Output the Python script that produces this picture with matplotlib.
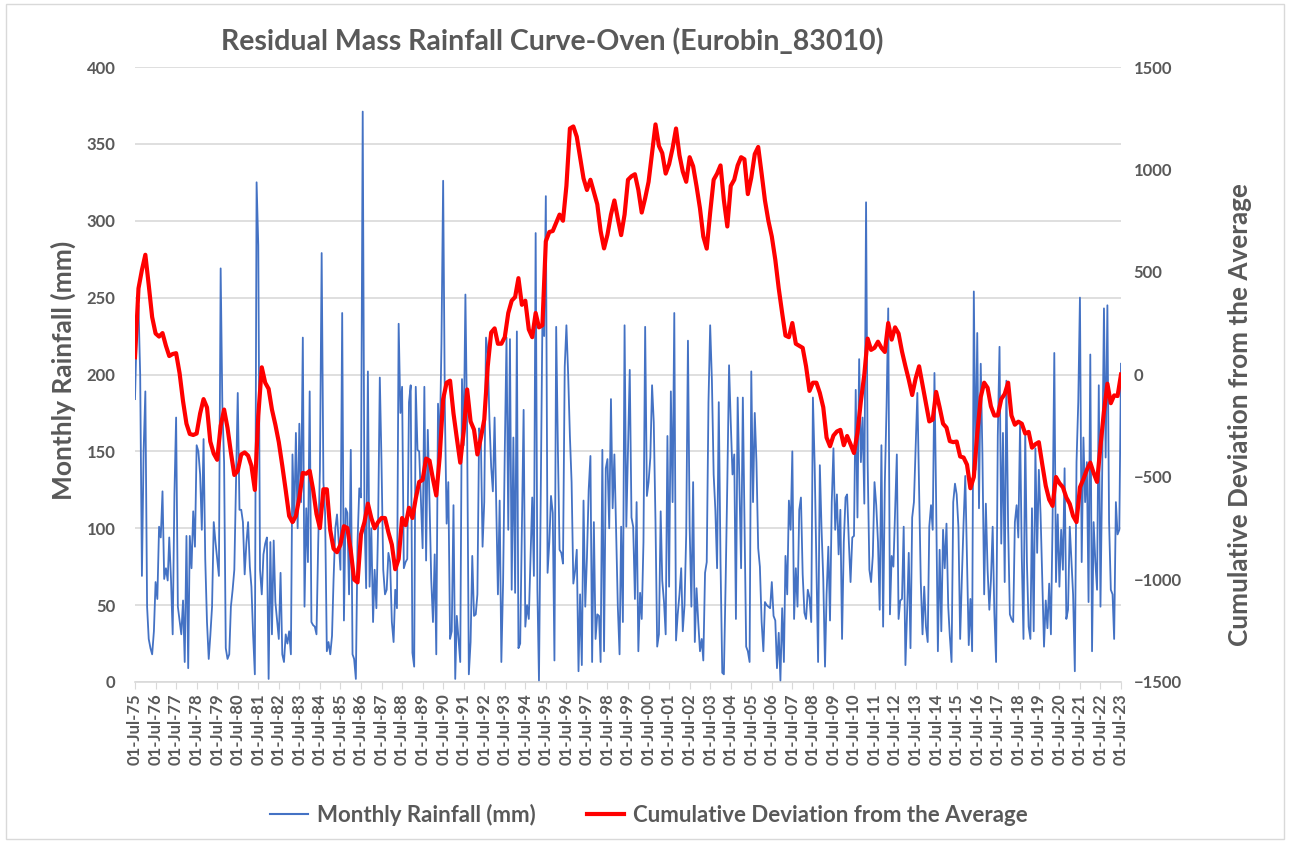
import numpy as np
import pandas as pd
import matplotlib
matplotlib.use("Agg")
import matplotlib.pyplot as plt
import matplotlib.dates as mdates
from matplotlib.lines import Line2D
from matplotlib.patches import Rectangle

plt.rcParams['font.family'] = ['Lato', 'DejaVu Sans']

# monthly rainfall (mm), one row per hydrological year starting July 1975
rain_rows = [
    [184, 230, 245, 200, 69, 150, 189, 49, 28, 22, 18, 33],
    [65, 54, 101, 94, 124, 67, 74, 66, 94, 67, 31, 122],
    [172, 49, 40, 31, 53, 13, 95, 9, 95, 74, 111, 88],
    [154, 150, 135, 99, 158, 80, 39, 15, 30, 49, 104, 91],
    [80, 69, 269, 180, 143, 22, 15, 18, 49, 60, 73, 130],
    [188, 112, 112, 104, 70, 90, 104, 75, 62, 30, 5, 325],
    [284, 73, 57, 83, 90, 94, 2, 91, 31, 92, 52, 40],
    [28, 71, 18, 13, 31, 25, 33, 18, 148, 104, 162, 100],
    [168, 117, 224, 49, 113, 78, 189, 39, 37, 36, 31, 91],
    [138, 279, 130, 110, 20, 26, 18, 30, 67, 100, 109, 91],
    [73, 240, 40, 113, 110, 57, 151, 18, 15, 2, 91, 126],
    [120, 371, 109, 61, 202, 62, 100, 39, 73, 48, 100, 198],
    [143, 73, 57, 60, 84, 78, 39, 26, 60, 48, 233, 175],
    [192, 74, 78, 80, 182, 193, 19, 10, 192, 151, 150, 117],
    [87, 192, 79, 164, 117, 67, 39, 83, 18, 181, 150, 220],
    [326, 177, 103, 130, 28, 33, 115, 2, 43, 28, 13, 197],
    [154, 252, 162, 5, 26, 82, 43, 44, 57, 165, 160, 88],
    [117, 224, 214, 171, 140, 124, 172, 110, 57, 118, 13, 65],
    [150, 224, 99, 223, 60, 159, 58, 228, 22, 25, 100, 177],
    [36, 50, 41, 80, 120, 69, 292, 60, 1, 117, 235, 225],
    [316, 71, 91, 121, 110, 14, 231, 150, 86, 84, 77, 205],
    [232, 200, 160, 130, 64, 72, 86, 7, 57, 11, 118, 49],
    [81, 125, 147, 13, 104, 28, 44, 43, 13, 151, 20, 139],
    [145, 100, 184, 113, 148, 98, 49, 18, 101, 39, 232, 101],
    [150, 203, 107, 101, 54, 117, 20, 58, 41, 91, 231, 121],
    [130, 146, 193, 169, 104, 23, 31, 111, 66, 52, 31, 160],
    [62, 189, 117, 240, 27, 44, 57, 74, 33, 50, 96, 222],
    [101, 49, 130, 26, 61, 39, 20, 28, 14, 71, 78, 182],
    [232, 196, 135, 112, 74, 182, 78, 6, 5, 65, 130, 206],
    [169, 135, 148, 41, 185, 131, 74, 185, 109, 23, 20, 13],
    [202, 117, 175, 143, 87, 75, 39, 20, 52, 50, 49, 48],
    [65, 43, 40, 9, 32, 1, 48, 13, 82, 57, 118, 99],
    [150, 41, 74, 49, 112, 120, 70, 45, 41, 60, 55, 39],
    [185, 141, 74, 13, 141, 100, 67, 10, 57, 88, 40, 117],
    [152, 99, 122, 83, 112, 28, 91, 120, 122, 91, 65, 94],
    [95, 190, 107, 210, 143, 172, 116, 312, 143, 73, 65, 82],
    [130, 115, 91, 47, 154, 36, 130, 180, 243, 44, 82, 75],
    [112, 148, 41, 53, 54, 101, 11, 47, 84, 22, 107, 117],
    [151, 188, 125, 65, 31, 62, 36, 26, 101, 115, 99, 201],
    [117, 20, 86, 33, 99, 74, 103, 49, 30, 13, 117, 129],
    [122, 101, 28, 67, 104, 134, 78, 24, 54, 20, 254, 138],
    [227, 113, 207, 148, 57, 116, 73, 47, 66, 101, 45, 13],
    [160, 218, 90, 162, 65, 196, 101, 44, 41, 39, 104, 115],
    [94, 167, 81, 28, 163, 78, 36, 28, 113, 33, 152, 84],
    [138, 109, 65, 23, 53, 35, 64, 31, 104, 214, 65, 109],
    [62, 99, 73, 139, 41, 47, 101, 78, 57, 7, 143, 182],
    [250, 78, 159, 117, 143, 52, 213, 20, 104, 78, 60, 193],
    [49, 138, 243, 146, 245, 104, 60, 57, 28, 117, 96, 99],
]
rain_last = [207]  # July 2023

# cumulative deviation from the average, read every second month from July 1975
cum_rows = [
    [84, 420, 510, 584, 437, 280, 200, 185, 202, 140, 90, 100],
    [104, 6, -130, -240, -290, -295, -288, -190, -120, -161, -327, -386],
    [-416, -250, -171, -260, -380, -490, -470, -390, -380, -396, -445, -563],
    [-200, 35, -40, -70, -171, -245, -330, -445, -565, -690, -720, -690],
    [-600, -480, -484, -470, -560, -680, -749, -560, -560, -760, -850, -867],
    [-830, -740, -749, -860, -1000, -1014, -780, -720, -630, -700, -750, -720],
    [-700, -700, -770, -830, -950, -900, -700, -735, -650, -700, -605, -524],
    [-514, -410, -420, -510, -590, -400, -120, -40, -30, -190, -310, -430],
    [-280, -73, -229, -269, -390, -310, -220, 40, 205, 225, 150, 150],
    [182, 300, 360, 378, 470, 340, 360, 220, 182, 300, 230, 240],
    [650, 695, 700, 740, 780, 750, 920, 1200, 1210, 1160, 1060, 957],
    [900, 950, 890, 830, 700, 615, 682, 780, 849, 760, 680, 780],
    [950, 967, 977, 900, 790, 860, 940, 1080, 1220, 1115, 1080, 980],
    [1026, 1104, 1200, 1070, 990, 940, 1060, 1016, 918, 810, 673, 614],
    [790, 950, 980, 1020, 850, 722, 920, 950, 1020, 1060, 1050, 880],
    [960, 1075, 1110, 980, 849, 750, 673, 560, 420, 300, 190, 182],
    [251, 150, 140, 130, 40, -80, -40, -40, -90, -160, -308, -350],
    [-298, -278, -270, -345, -300, -340, -383, -285, -130, 0, 175, 120],
    [130, 160, 130, 110, 251, 170, 230, 200, 112, 40, -25, -100],
    [-20, 40, -50, -141, -229, -220, -85, -160, -240, -259, -325, -330],
    [-327, -400, -405, -440, -555, -500, -288, -110, -40, -65, -155, -200],
    [-200, -120, -95, -40, -200, -245, -230, -240, -288, -280, -357, -340],
    [-330, -440, -543, -610, -641, -500, -530, -550, -600, -631, -690, -720],
    [-550, -510, -465, -430, -480, -524, -350, -180, -45, -140, -102, -105],
]
cum_last = [0]

left_ticks = [0, 50, 100, 150, 200, 250, 300, 350, 400]
right_ticks = [-1500, -1000, -500, 0, 500, 1000, 1500]

rain = np.array(sum(rain_rows, []) + rain_last, dtype=float)
cum = np.array(sum(cum_rows, []) + cum_last, dtype=float)
rain_dates = pd.date_range('1975-07-01', periods=len(rain), freq='MS')
cum_dates = pd.date_range('1975-07-01', periods=len(cum), freq='2MS')
year_ticks = pd.date_range('1975-07-01', '2023-07-01', freq='12MS')

grey = '#595959'
grid = '#d9d9d9'
blue = '#4472C4'
red = '#FF0000'

fig = plt.figure(figsize=(12.9, 8.43), dpi=100)
fig.patches.append(Rectangle((0.005, 0.005), 0.99, 0.99, transform=fig.transFigure,
                             fill=False, edgecolor=grid, linewidth=1))

ax = fig.add_axes([135 / 1290, 1 - 682 / 843, (1121 - 135) / 1290, (682 - 67) / 843])
ax.plot(rain_dates, rain, color=blue, lw=1.3, zorder=3)
ax.set_ylim(0, 400)
ax.set_yticks(left_ticks)
ax.set_xlim(rain_dates[0], rain_dates[-1])
ax.set_xticks(year_ticks)
ax.xaxis.set_major_formatter(mdates.DateFormatter('%d-%b-%y'))
ax.grid(axis='y', color=grid, lw=1.2)
ax.set_axisbelow(True)
for s in ['top', 'left', 'right']:
    ax.spines[s].set_visible(False)
ax.spines['bottom'].set_color(grid)
ax.spines['bottom'].set_linewidth(1.2)
ax.tick_params(axis='y', length=0, labelsize=12, labelcolor=grey, pad=14)
ax.tick_params(axis='x', length=5, color=grid, labelsize=12, labelcolor=grey,
               labelrotation=90, pad=3)

ax2 = ax.twinx()
ax2.plot(cum_dates, cum, color=red, lw=3, zorder=4)
ax2.set_ylim(-1500, 1500)
ax2.set_yticks(right_ticks)
for s in ['top', 'left', 'right', 'bottom']:
    ax2.spines[s].set_visible(False)
ax2.tick_params(axis='y', length=0, labelsize=12, labelcolor=grey, pad=9)

for lab in ax.get_xticklabels() + ax.get_yticklabels() + ax2.get_yticklabels():
    lab.set_fontweight('bold')

fig.text(552 / 1290, 1 - 42 / 843, 'Residual Mass Rainfall Curve-Oven (Eurobin_83010)',
         ha='center', va='center', fontsize=20.5, fontweight='bold', color=grey)
fig.text(63 / 1290, 1 - 370 / 843, 'Monthly Rainfall (mm)', rotation=90,
         ha='center', va='center', fontsize=19, fontweight='bold', color=grey)
fig.text(1240 / 1290, 1 - 415 / 843, 'Cumulative Deviation from the Average', rotation=90,
         ha='center', va='center', fontsize=18.8, fontweight='bold', color=grey)

handles = [Line2D([], [], color=blue, lw=1.5), Line2D([], [], color=red, lw=3)]
leg = fig.legend(handles, ['Monthly Rainfall (mm)', 'Cumulative Deviation from the Average'],
                 loc='center', bbox_to_anchor=(649 / 1290, 1 - 815 / 843), ncol=2,
                 frameon=False, fontsize=16, handlelength=1.7, handletextpad=0.4,
                 columnspacing=2.3)
for t in leg.get_texts():
    t.set_color(grey)
    t.set_fontweight('bold')

fig.savefig('out.png', dpi=100)
